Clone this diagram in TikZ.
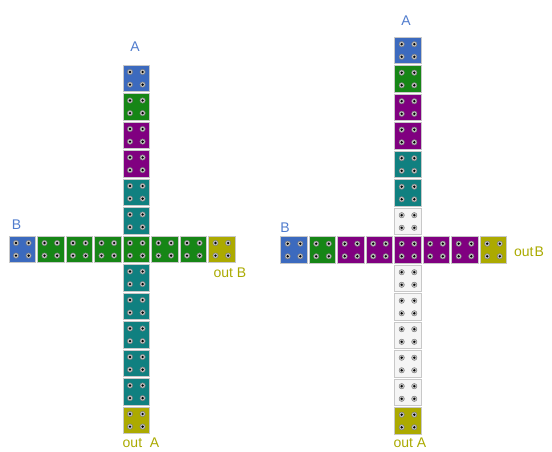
\documentclass[tikz,border=0pt]{standalone}
\usepackage{fontspec}
\setmainfont{Liberation Sans}
\definecolor{cblue}{RGB}{60,106,190}
\definecolor{cgreen}{RGB}{22,134,22}
\definecolor{cpurple}{RGB}{128,0,128}
\definecolor{cteal}{RGB}{16,128,128}
\definecolor{colive}{RGB}{172,170,0}
\definecolor{cwhite}{RGB}{245,245,245}
\definecolor{cborder}{RGB}{200,200,200}
\definecolor{holering}{RGB}{196,196,196}
\definecolor{holeedge}{RGB}{120,120,120}
\definecolor{lblblue}{RGB}{80,124,205}
\definecolor{lblolive}{RGB}{170,170,0}
\tikzset{
  cell/.style={draw=cborder, fill=#1, line width=0.8pt, minimum size=26.5pt,
    inner sep=0pt, outer sep=0pt,
    path picture={
      \foreach \dx in {-6.3,6.3} \foreach \dy in {-6.3,6.3} {
        \filldraw[fill=holering, draw=holeedge, line width=0.4pt] ([shift={(\dx pt,\dy pt)}]path picture bounding box.center) circle (2.7pt);
        \fill[black] ([shift={(\dx pt,\dy pt)}]path picture bounding box.center) circle (1.3pt);
      }
    }},
  lbl/.style={font=\fontsize{14}{15}\selectfont, inner sep=0pt, text=#1},
}
\begin{document}
\begin{tikzpicture}[x=1pt,y=-1pt]
\useasboundingbox (0,0) rectangle (552,452);
\def\p{28.5}
% left cross: vertical column
\foreach \c [count=\i from -6] in {cblue,cgreen,cpurple,cpurple,cteal,cteal,cgreen,cteal,cteal,cteal,cteal,cteal,colive}
  \node[cell=\c] (Lv\i) at (136.3, 249.3+\i*\p) {};
% left cross: horizontal row
\foreach \c [count=\i from -4] in {cblue,cgreen,cgreen,cgreen,cgreen,cgreen,cgreen,colive}
  \node[cell=\c] (Lh\i) at (136.3+\i*\p, 249.3) {};
% right cross: vertical column
\foreach \c [count=\i from -7] in {cblue,cgreen,cpurple,cpurple,cteal,cteal,cwhite,cpurple,cwhite,cwhite,cwhite,cwhite,cwhite,colive}
  \node[cell=\c] (Rv\i) at (408, 250+\i*\p) {};
% right cross: horizontal row
\foreach \c [count=\i from -4] in {cblue,cgreen,cpurple,cpurple,cpurple,cpurple,cpurple,colive}
  \node[cell=\c] (Rh\i) at (408+\i*\p, 250) {};
% labels
\node[lbl=lblblue] (LA) at (135,47) {A};
\node[lbl=lblblue] (LB) at (16.5,225) {B};
\node[lbl=lblolive] (LoB) at (230,273) {out B};
\node[lbl=lblolive] (LoA) at (141,443) {out\ \ A};
\node[lbl=lblblue] (RA) at (406,20.5) {A};
\node[lbl=lblblue] (RB) at (285,227.5) {B};
\node[lbl=lblolive] (RoB) at (529,252) {out\kern1pt B};
\node[lbl=lblolive] (RoA) at (410,443) {out A};
\end{tikzpicture}
\end{document}
